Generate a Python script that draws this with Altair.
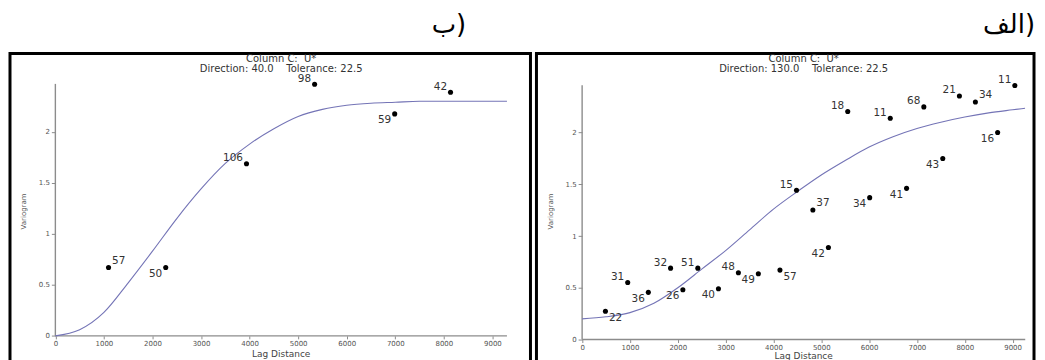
import altair as alt
import pandas as pd

FONT = "DejaVu Sans"
NB = "\u00a0"

# ---------------- panel "ب)" : Direction 40.0 ----------------
b_lag = [1095, 2273, 3936, 5339, 6988, 8138]
b_gamma = [0.670, 0.670, 1.687, 2.466, 2.176, 2.388]
b_pairs = ["57", "50", "106", "98", "59", "42"]
b_side = ["ur", "ll", "ul", "ul", "ll", "ul"]
b_model_lag = [0, 500, 1000, 1500, 2000, 2500, 3000, 3500, 4000, 4500,
               5000, 5500, 6000, 6500, 7000, 7500, 8000, 8500, 9000, 9300]
b_model_gamma = [0.00, 0.06, 0.23, 0.52, 0.83, 1.15, 1.44, 1.69, 1.88, 2.03,
                 2.15, 2.22, 2.26, 2.28, 2.29, 2.30, 2.30, 2.30, 2.30, 2.30]

# ---------------- panel "الف)" : Direction 130.0 ----------------
a_lag = [487, 953, 1384, 1849, 2106, 2419, 2850, 3267, 3684, 4136, 4482, 4824,
         5149, 5553, 6012, 6442, 6783, 7144, 7540, 7888, 8222, 8687, 9047]
a_gamma = [0.273, 0.552, 0.456, 0.690, 0.482, 0.690, 0.491, 0.645, 0.636, 0.671,
           1.442, 1.252, 0.889, 2.203, 1.371, 2.139, 1.461, 2.248, 1.750, 2.354,
           2.296, 2.001, 2.454]
a_pairs = ["22", "31", "36", "32", "26", "51", "40", "48", "49", "57", "15", "37",
           "42", "18", "34", "11", "41", "68", "43", "21", "34", "16", "11"]
a_side = ["lr", "ul", "ll", "ul", "ll", "ul", "ll", "ul", "ll", "lr", "ul", "ur",
          "ll", "ul", "ll", "ul", "ll", "ul", "ll", "ul", "ur", "ll", "ul"]
a_model_lag = [0, 500, 1000, 1500, 2000, 2500, 3000, 3500, 4000, 4500,
               5000, 5500, 6000, 6500, 7000, 7500, 8000, 8500, 9000, 9260]
a_model_gamma = [0.20, 0.22, 0.26, 0.35, 0.50, 0.68, 0.86, 1.06, 1.26, 1.43,
                 1.59, 1.73, 1.86, 1.96, 2.04, 2.10, 2.15, 2.19, 2.22, 2.235]

x_ticks = [0, 1000, 2000, 3000, 4000, 5000, 6000, 7000, 8000, 9000]
y_ticks = [0, 0.5, 1, 1.5, 2]

LABEL_POS = {
    "ul": ("right", -3.5, -5.5),
    "ur": ("left", 3.5, -6.5),
    "ll": ("right", -3.5, 6.5),
    "lr": ("left", 3.5, 6.5),
}


def panel(label, direction, lag, gamma, pairs, side, mlag, mgamma,
          x_end, y_end, xdom, ydom, width, height, xoff, yoff, center_x,
          title_dx, lag_title_y):
    pts = pd.DataFrame({"lag": lag, "gamma": gamma, "pairs": pairs, "side": side})
    model = pd.DataFrame({"lag": mlag, "gamma": mgamma})
    axes_df = pd.DataFrame({"x0": [0, 0], "x1": [x_end, 0],
                            "y0": [0, 0], "y1": [0, y_end]})
    xs = alt.Scale(domain=xdom, nice=False, zero=False)
    ys = alt.Scale(domain=ydom, nice=False, zero=False)

    axis_lines = alt.Chart(axes_df).mark_rule(color="#8c8c8c", strokeWidth=1.4).encode(
        x=alt.X("x0:Q", scale=xs, axis=None), x2="x1:Q",
        y=alt.Y("y0:Q", scale=ys, axis=None), y2="y1:Q")

    title_lines = ["Column C:" + NB * 2 + "U*",
                   "Direction: " + direction + NB * 4 + "Tolerance: 22.5"]
    curve = alt.Chart(model).mark_line(
        color="#7474b6", strokeWidth=1.1, interpolate="monotone").encode(
        x=alt.X("lag:Q", scale=xs, axis=alt.Axis(
            orient="top", domain=False, ticks=False, labels=False, grid=False,
            title=title_lines,
            titleFont=FONT, titleFontSize=10, titleFontWeight="normal",
            titleColor="#333333", titleX=center_x, titleY=0.5,
            titleBaseline="top", titleAlign="center", titleLineHeight=10,
            minExtent=0, maxExtent=0)),
        y=alt.Y("gamma:Q", scale=ys, axis=None))

    points = alt.Chart(pts).mark_circle(size=26, color="black", opacity=1).encode(
        x=alt.X("lag:Q", scale=xs, axis=alt.Axis(
            orient="bottom", offset=xoff, values=x_ticks, format="d",
            domain=False, grid=False, tickSize=3, tickColor="#8c8c8c",
            tickWidth=1, labelFont=FONT, labelFontSize=7, labelColor="#555555",
            labelPadding=1, labelOverlap=False, labelFlush=False,
            title="Lag Distance", titleFont=FONT, titleFontSize=9,
            titleFontWeight="normal", titleColor="#444444",
            titleX=center_x, titleY=lag_title_y, titleBaseline="middle",
            titleAlign="center")),
        y=alt.Y("gamma:Q", scale=ys, axis=alt.Axis(
            orient="left", offset=yoff, values=y_ticks, format="~g",
            domain=False, grid=False, tickSize=4, tickColor="#8c8c8c",
            tickWidth=1, labelFont=FONT, labelFontSize=7, labelColor="#555555",
            labelPadding=2, title="Variogram", titleFont=FONT, titleFontSize=7,
            titleFontWeight="normal", titleColor="#555555", titleX=-32,
            titleY=158, titleBaseline="middle", titleAlign="center")))

    texts = []
    for s, (al, dx, dy) in LABEL_POS.items():
        texts.append(
            alt.Chart(pts).transform_filter(alt.datum.side == s).mark_text(
                align=al, baseline="middle", dx=dx, dy=dy, font=FONT,
                fontSize=10.5, color="#333333").encode(
                x=alt.X("lag:Q", scale=xs, axis=None),
                y=alt.Y("gamma:Q", scale=ys, axis=None),
                text="pairs:N"))

    return alt.layer(axis_lines, curve, points, *texts).resolve_axis(
        x="independent", y="independent").properties(
        width=width, height=height,
        title=alt.TitleParams(
            text=label, anchor="end", frame="group", dx=title_dx,
            font=FONT, fontSize=26, fontWeight="normal", color="black",
            offset=15))


H = 311
left = panel("ب)", "40.0", b_lag, b_gamma, b_pairs, b_side,
             b_model_lag, b_model_gamma, 9300, 2.47,
             [-934.3, 9784.4], [-0.2708, 2.769], 522, H, -27.7, -45.5, 271.5,
             -64.5, 18)
right = panel("الف)", "130.0", a_lag, a_gamma, a_pairs, a_side,
              a_model_lag, a_model_gamma, 9264, 2.457,
              [-954.8, 9447.5], [-0.2312, 2.765], 499, H, -24, -45.8, 267.5,
              1, 16)

chart = alt.hconcat(left, right, spacing=2).configure_view(
    stroke="black", strokeWidth=3).properties(
    padding={"left": 0, "top": 2, "right": 0, "bottom": 0},
    background="white")

chart.save("out.html", embed_options={"renderer": "svg", "actions": False})
